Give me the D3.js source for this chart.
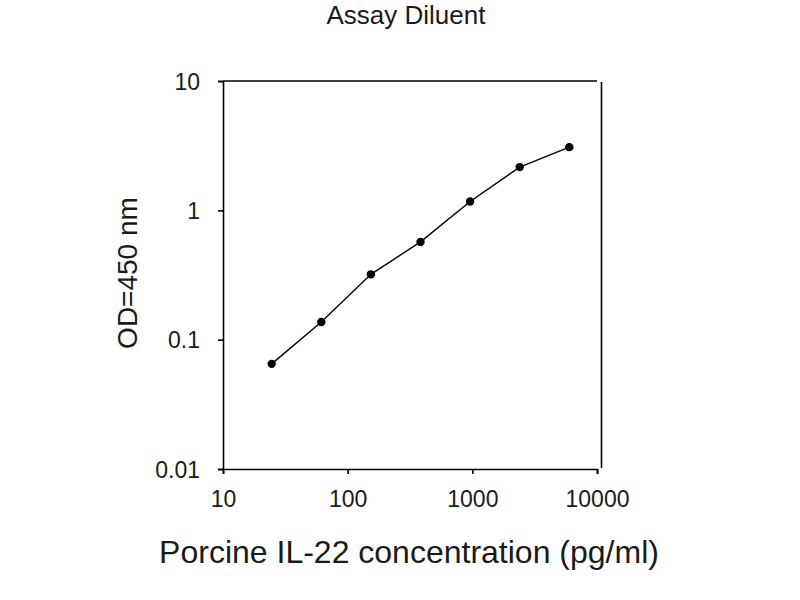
<!DOCTYPE html>
<html><head><meta charset="utf-8">
<script src="https://cdn.jsdelivr.net/npm/d3@7"></script>
<style>body{margin:0;background:#fff}svg{display:block}text{font-family:Arial,"Liberation Sans",sans-serif;fill:#1a1a1a}</style>
</head><body>
<svg id="c" width="800" height="600"></svg>
<script>
const concentration = [24.58, 61.44, 153.6, 384, 960, 2400, 6000];
const od = [0.065, 0.137, 0.32, 0.57, 1.17, 2.16, 3.08];
const xTicks = [10, 100, 1000, 10000];
const yTicks = [0.01, 0.1, 1, 10];
const yTickLabels = ["0.01", "0.1", "1", "10"];
const title = "Assay Diluent";
const xTitle = "Porcine IL-22 concentration (pg/ml)";
const yTitle = "OD=450 nm";

const svg = d3.select("#c");
const L = 223, R = 597, T = 81, B = 469;
const x = d3.scaleLog().domain([10, 10000]).range([L, R]);
const y = d3.scaleLog().domain([0.01, 10]).range([B, T]);

// frame top & right
svg.append("line").attr("x1", L).attr("x2", R).attr("y1", T).attr("y2", T).attr("stroke", "#000").attr("stroke-width", 1.6);
svg.append("line").attr("x1", 601.5).attr("x2", 601.5).attr("y1", 82).attr("y2", 468).attr("stroke", "#000").attr("stroke-width", 1.6);

const xAxis = svg.append("g").attr("transform", `translate(0,${B})`)
  .call(d3.axisBottom(x).tickValues(xTicks).tickFormat(d3.format("d")).tickSizeOuter(0).tickSize(5).tickPadding(17));
const yAxis = svg.append("g").attr("transform", `translate(${L},0)`)
  .call(d3.axisLeft(y).tickValues(yTicks).tickFormat((d, i) => yTickLabels[i]).tickSizeOuter(0).tickSize(5).tickPadding(18));
[xAxis, yAxis].forEach(g => {
  g.select(".domain").attr("stroke", "#000").attr("stroke-width", 1.6);
  g.selectAll(".tick line").attr("stroke", "#000").attr("stroke-width", 1.6);
  g.selectAll(".tick text").attr("font-size", 23).attr("fill", "#1a1a1a").attr("font-family", "Arial, 'Liberation Sans', sans-serif");
});
yAxis.selectAll(".tick text").attr("dy", "0.36em");

const pts = concentration.map((c, i) => [c, od[i]]);
svg.append("path").datum(pts)
  .attr("d", d3.line().x(d => x(d[0])).y(d => y(d[1])))
  .attr("fill", "none").attr("stroke", "#000").attr("stroke-width", 1.4);
svg.selectAll("circle.pt").data(pts).join("circle").attr("class", "pt")
  .attr("cx", d => x(d[0])).attr("cy", d => y(d[1])).attr("r", 4.2).attr("fill", "#000");

svg.append("text").attr("x", 406).attr("y", 24).attr("text-anchor", "middle").attr("font-size", 26).text(title);
svg.append("text").attr("x", 409).attr("y", 563).attr("text-anchor", "middle").attr("font-size", 32).text(xTitle);
svg.append("text").attr("transform", "translate(137,273) rotate(-90)").attr("text-anchor", "middle").attr("font-size", 28).text(yTitle);
</script>
</body></html>
